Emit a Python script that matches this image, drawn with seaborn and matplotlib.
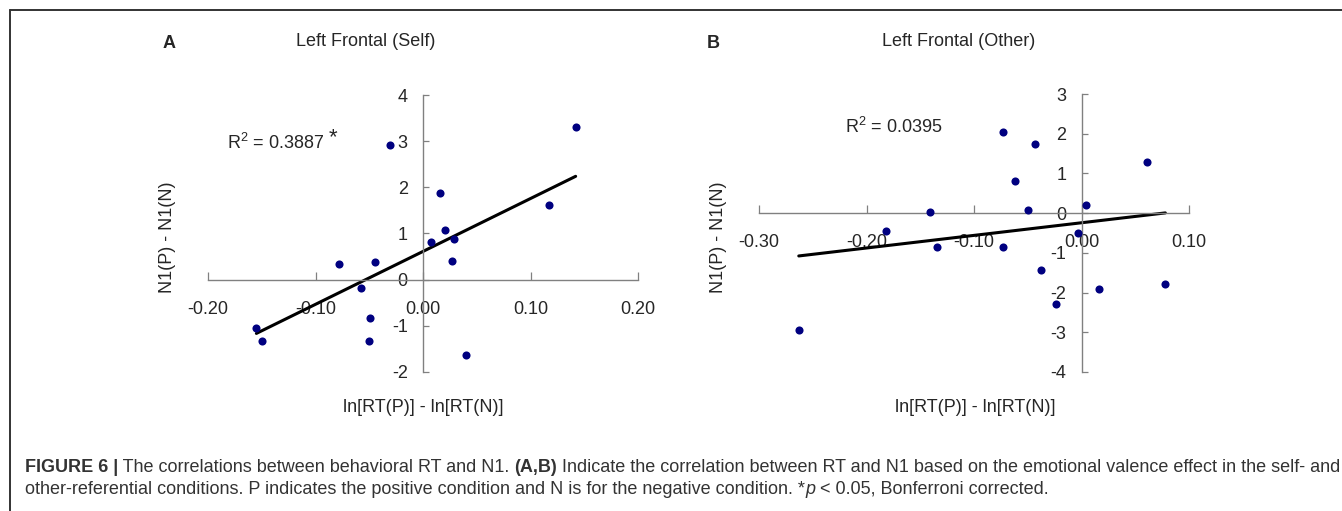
"""Correlations between behavioral RT and N1 (two scatter panels with trendlines)"""
import numpy as np
import matplotlib
matplotlib.use("Agg")
import matplotlib.pyplot as plt
from matplotlib.lines import Line2D
import seaborn as sns

# panel A: Left Frontal (Self)
self_rt = [0.142, -0.031, 0.016, 0.117, 0.020, 0.029, 0.007, 0.027,
           -0.078, -0.045, -0.058, -0.049, -0.050, -0.155, -0.150, 0.040]
self_n1 = [3.31, 2.91, 1.87, 1.62, 1.07, 0.89, 0.81, 0.40,
           0.35, 0.38, -0.17, -0.83, -1.32, -1.05, -1.32, -1.63]

# panel B: Left Frontal (Other)
other_rt = [-0.073, -0.043, 0.061, -0.062, -0.050, -0.141, 0.004, -0.182,
            -0.003, -0.134, -0.073, -0.038, 0.016, 0.078, -0.024, -0.263]
other_n1 = [2.04, 1.75, 1.28, 0.81, 0.08, 0.04, 0.21, -0.46,
            -0.50, -0.86, -0.86, -1.43, -1.90, -1.79, -2.30, -2.93]

titles = ["Left Frontal (Self)", "Left Frontal (Other)"]
r2_labels = [r"R$^{2}$ = 0.3887", r"R$^{2}$ = 0.0395"]
xticks_a = [-0.20, -0.10, 0.00, 0.10, 0.20]
yticks_a = [-2, -1, 0, 1, 2, 3, 4]
xticks_b = [-0.30, -0.20, -0.10, 0.00, 0.10]
yticks_b = [-4, -3, -2, -1, 0, 1, 2, 3]

W, H = 1342, 511
FONT = "Liberation Sans"
DOT = "#000080"
AXIS_GREY = "#808080"
CAPTION_COL = "#333333"

sns.set_theme(style="white")
plt.rcParams["font.family"] = [FONT, "DejaVu Sans"]
plt.rcParams["mathtext.fontset"] = "custom"
plt.rcParams["mathtext.rm"] = FONT
plt.rcParams["mathtext.it"] = FONT + ":italic"

fig = plt.figure(figsize=(W / 100, H / 100), dpi=100)
fig.patch.set_facecolor("white")


def px(x, y):
    """pixel (from top-left) -> figure fraction"""
    return x / W, 1 - y / H


def setup_axis(ax, xticks, yticks):
    ax.set_xlim(xticks[0], xticks[-1])
    ax.set_ylim(yticks[0], yticks[-1])
    ax.set_xticks(xticks)
    ax.set_yticks(yticks)
    ax.set_xticklabels([f"{t:.2f}" for t in xticks])
    ax.set_yticklabels([str(t) for t in yticks])
    ax.spines["left"].set_position(("data", 0))
    ax.spines["bottom"].set_position(("data", 0))
    ax.spines["top"].set_visible(False)
    ax.spines["right"].set_visible(False)
    for s in ["left", "bottom"]:
        ax.spines[s].set_color(AXIS_GREY)
        ax.spines[s].set_linewidth(1.0)
    ax.tick_params(axis="x", direction="in", length=6, width=0.9, color=AXIS_GREY,
                   labelsize=13, pad=15, bottom=True)
    ax.tick_params(axis="y", direction="in", length=4, width=0.9, color=AXIS_GREY,
                   labelsize=13, pad=11, left=True)
    ax.set_xlabel("")
    ax.set_ylabel("")
    ax.set_facecolor("none")
    ax.grid(False)


ax_a = fig.add_axes([208 / W, 1 - 372 / H, 430 / W, 277 / H])
ax_b = fig.add_axes([759 / W, 1 - 372 / H, 430 / W, 278 / H])

for ax, xs, ys in [(ax_a, self_rt, self_n1), (ax_b, other_rt, other_n1)]:
    sns.regplot(x=np.array(xs), y=np.array(ys), ax=ax, ci=None, truncate=True,
                scatter_kws=dict(s=34, color=DOT, alpha=1, linewidths=0, zorder=3),
                line_kws=dict(color="black", lw=2.2, zorder=2))

setup_axis(ax_a, xticks_a, yticks_a)
setup_axis(ax_b, xticks_b, yticks_b)

# titles, panel letters, axis labels
fig.text(*px(366, 42), titles[0], ha="center", va="center", fontsize=13)
fig.text(*px(959, 42), titles[1], ha="center", va="center", fontsize=13)
fig.text(*px(169, 43), "A", ha="center", va="center", fontsize=13, fontweight="bold")
fig.text(*px(713, 43), "B", ha="center", va="center", fontsize=13, fontweight="bold")
for cx in [423, 975]:
    fig.text(*px(cx, 407), "ln[RT(P)] - ln[RT(N)]", ha="center", va="center", fontsize=13)
for cx in [168, 718]:
    fig.text(*px(cx, 237), "N1(P) - N1(N)", ha="center", va="center",
             rotation=90, fontsize=13)

# R squared annotations
fig.text(*px(227, 149), r2_labels[0], ha="left", va="baseline", fontsize=13)
fig.text(*px(333, 138), "*", ha="center", va="center", fontsize=16)
fig.text(*px(845, 133), r2_labels[1], ha="left", va="baseline", fontsize=13)

# frame around the figure (top and left edges visible)
fig.add_artist(Line2D([9.5 / W, 1], [1 - 10 / H, 1 - 10 / H], transform=fig.transFigure,
                      color="#333333", lw=1.4))
fig.add_artist(Line2D([9.5 / W, 9.5 / W], [0, 1 - 10 / H], transform=fig.transFigure,
                      color="#333333", lw=1.4))

# caption with mixed styles
line1 = [("FIGURE 6 |", "bold", "normal"),
         (" The correlations between behavioral RT and N1. ", "normal", "normal"),
         ("(A,B)", "bold", "normal"),
         (" Indicate the correlation between RT and N1 based on the emotional valence "
          "effect in the self- and", "normal", "normal")]
line2 = [("other-referential conditions. P indicates the positive condition and N is for "
          "the negative condition. *", "normal", "normal"),
         ("p", "normal", "italic"),
         (" < 0.05, Bonferroni corrected.", "normal", "normal")]

renderer = fig.canvas.get_renderer()


def draw_runs(runs, x0, y0, size):
    texts = []
    x = x0
    for s, weight, style in runs:
        t = fig.text(x / W, 1 - y0 / H, s, ha="left", va="baseline", fontsize=size,
                     fontweight=weight, fontstyle=style, color=CAPTION_COL)
        bb = t.get_window_extent(renderer=renderer)
        x = bb.x1
        texts.append(t)
    return texts, x - x0


# fit caption size so line 1 spans the reference width
probe, width = draw_runs(line1, 25, 472, 11)
for t in probe:
    t.remove()
cap_size = 11 * 1312 / width
draw_runs(line1, 25, 472, cap_size)
draw_runs(line2, 25, 494, cap_size)

fig.savefig("out.png", dpi=100, facecolor="white")
